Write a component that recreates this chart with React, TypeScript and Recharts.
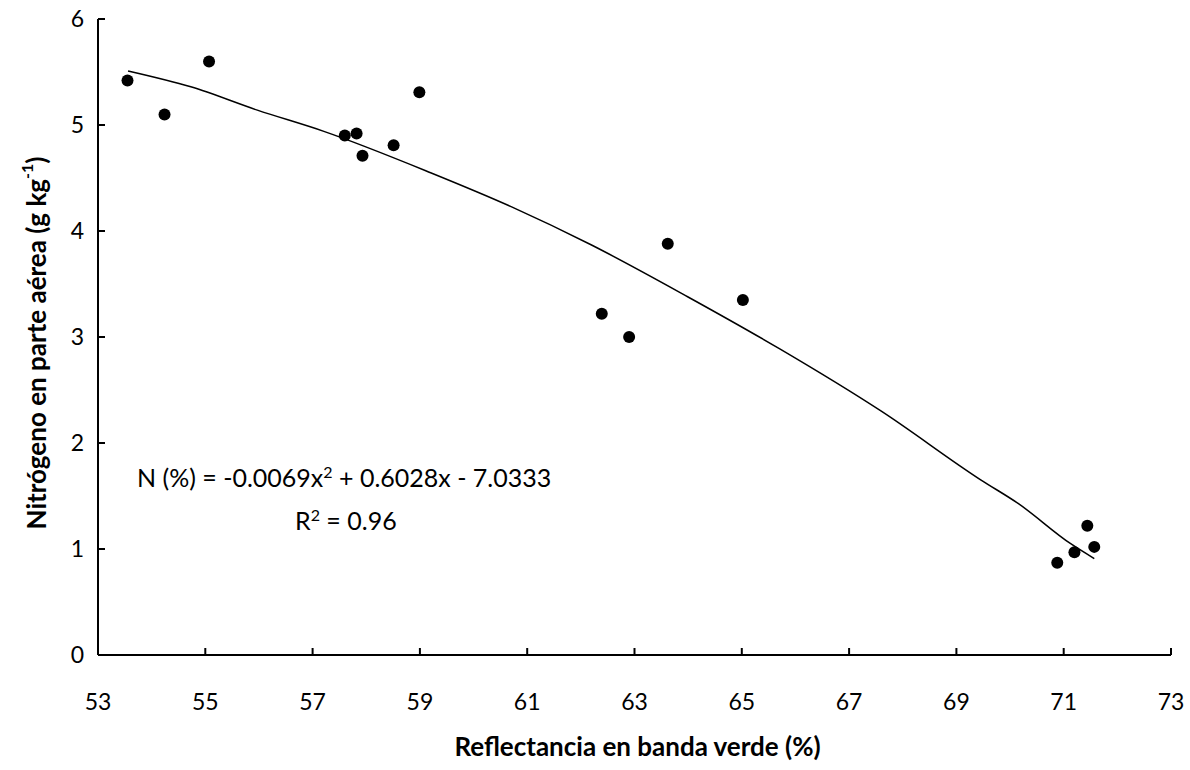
import { ComposedChart, Scatter, Line, XAxis, YAxis } from 'recharts';

const xTicks = [53, 55, 57, 59, 61, 63, 65, 67, 69, 71, 73];
const yTicks = [0, 1, 2, 3, 4, 5, 6];

// observed points
const reflectance = [53.55, 54.24, 55.07, 57.6, 57.82, 57.93, 58.51, 58.99, 62.39, 62.9, 63.62, 65.02, 70.88, 71.2, 71.44, 71.57];
const nitrogen = [5.42, 5.1, 5.6, 4.9, 4.92, 4.71, 4.81, 5.31, 3.22, 3.0, 3.88, 3.35, 0.87, 0.97, 1.22, 1.02];

// fitted curve
const trendX = [53.56, 54.73, 55.97, 57.21, 59.2, 60.7, 62.19, 63.99, 65.7, 67.6, 69.46, 70.15, 71.13, 71.57];
const trendY = [5.51, 5.36, 5.14, 4.94, 4.55, 4.23, 3.87, 3.38, 2.89, 2.3, 1.65, 1.43, 1.05, 0.91];

const points = reflectance.map((x, i) => ({ x, y: nitrogen[i] }));
const trend = trendX.map((x, i) => ({ x, y: trendY[i] }));

const font = 'Lato, sans-serif';

const XTitle = ({ viewBox }: any) => (
  <text
    x={viewBox.x + viewBox.width / 2 + 3}
    y={viewBox.y + 101}
    textAnchor="middle"
    fontFamily={font}
    fontWeight={700}
    fontSize={26}
    fill="#000"
  >
    Reflectancia en banda verde (%)
  </text>
);

const YTitle = ({ viewBox }: any) => {
  const cx = viewBox.x - 2;
  const cy = viewBox.y + viewBox.height / 2 + 6;
  return (
    <text
      x={cx}
      y={cy}
      transform={`rotate(-90 ${cx} ${cy})`}
      textAnchor="middle"
      dominantBaseline="central"
      fontFamily={font}
      fontWeight={700}
      fontSize={26}
      fill="#000"
    >
      Nitrógeno en parte aérea (g kg
      <tspan dy={-10} fontSize={16}>-1</tspan>
      <tspan dy={10}>)</tspan>
    </text>
  );
};

const Dot = (p: any) => <circle cx={p.cx} cy={p.cy} r={6} fill="#000" />;

const eqStyle = {
  position: 'absolute' as const,
  fontFamily: font,
  fontSize: 25,
  lineHeight: '30px',
  color: '#000',
  whiteSpace: 'nowrap' as const,
};
const supStyle = { fontSize: 16, lineHeight: 0, verticalAlign: 'super' };

export default function App() {
  return (
    <div style={{ position: 'absolute', left: 0, top: 0, width: 1190, height: 770, background: '#fff' }}>
      <ComposedChart width={1190} height={770} margin={{ top: 19, right: 19, left: 38, bottom: 0 }}>
        <XAxis
          type="number"
          dataKey="x"
          domain={[53, 73]}
          ticks={xTicks}
          interval={0}
          allowDataOverflow
          height={115}
          axisLine={{ stroke: '#000', strokeWidth: 2 }}
          tickLine={{ stroke: '#000', strokeWidth: 2 }}
          tickSize={-7}
          tickMargin={46}
          tick={{ fill: '#000', fontSize: 23, fontFamily: font }}
          label={{ content: XTitle }}
        />
        <YAxis
          type="number"
          domain={[0, 6]}
          ticks={yTicks}
          interval={0}
          width={60}
          axisLine={{ stroke: '#000', strokeWidth: 2 }}
          tickLine={{ stroke: '#000', strokeWidth: 2 }}
          tickSize={-7}
          tickMargin={21}
          tick={{ fill: '#000', fontSize: 23, fontFamily: font }}
          label={{ content: YTitle }}
        />
        <Line
          data={trend}
          dataKey="y"
          type="monotone"
          stroke="#000"
          strokeWidth={1.5}
          dot={false}
          activeDot={false}
          isAnimationActive={false}
        />
        <Scatter data={points} dataKey="y" shape={Dot} isAnimationActive={false} />
      </ComposedChart>
      <div style={{ ...eqStyle, left: 137, top: 462 }}>
        N (%) = -0.0069x<sup style={supStyle}>2</sup> + 0.6028x - 7.0333
      </div>
      <div style={{ ...eqStyle, left: 295, top: 505 }}>
        R<sup style={supStyle}>2</sup> = 0.96
      </div>
    </div>
  );
}
